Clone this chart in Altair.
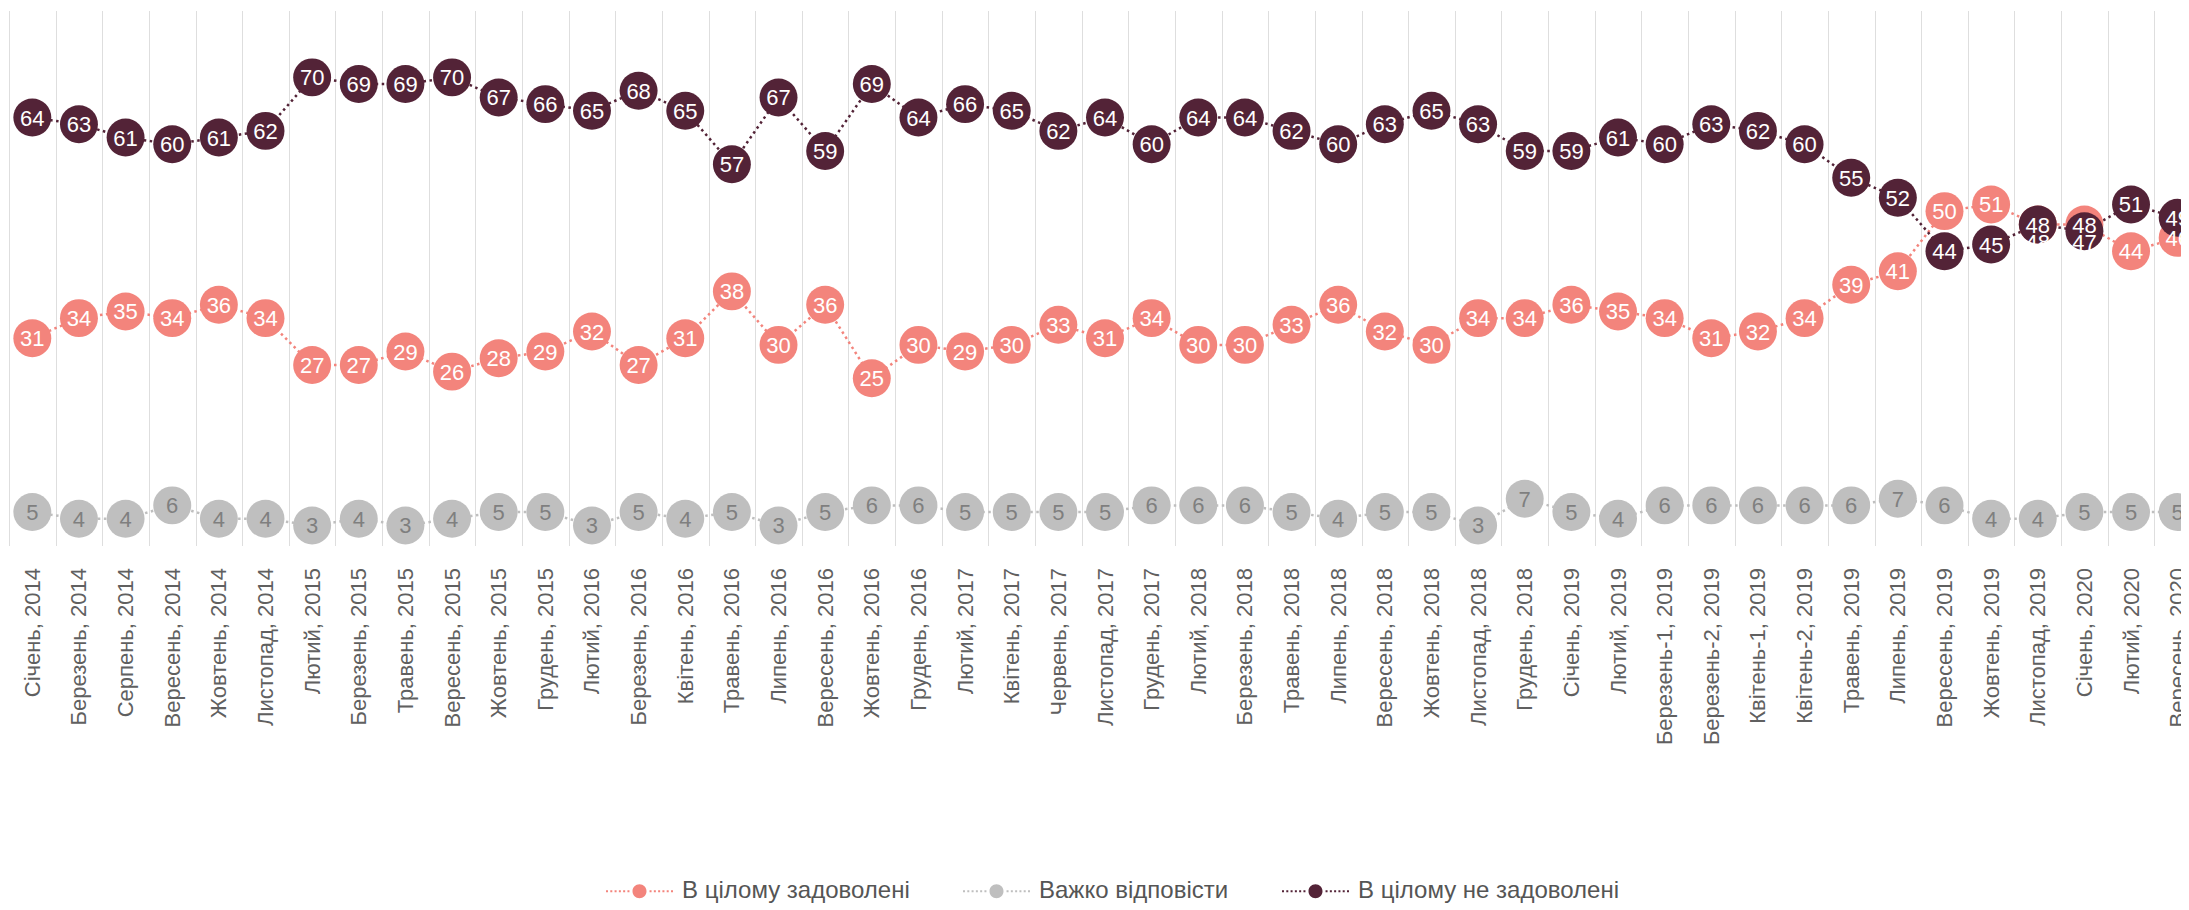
import altair as alt
import pandas as pd

categories = [
    "Січень, 2014", "Березень, 2014", "Серпень, 2014", "Вересень, 2014", "Жовтень, 2014",
    "Листопад, 2014", "Лютий, 2015", "Березень, 2015", "Травень, 2015", "Вересень, 2015",
    "Жовтень, 2015", "Грудень, 2015", "Лютий, 2016", "Березень, 2016", "Квітень, 2016",
    "Травень, 2016", "Липень, 2016", "Вересень, 2016", "Жовтень, 2016", "Грудень, 2016",
    "Лютий, 2017", "Квітень, 2017", "Червень, 2017", "Листопад, 2017", "Грудень, 2017",
    "Лютий, 2018", "Березень, 2018", "Травень, 2018", "Липень, 2018", "Вересень, 2018",
    "Жовтень, 2018", "Листопад, 2018", "Грудень, 2018", "Січень, 2019", "Лютий, 2019",
    "Березень-1, 2019", "Березень-2, 2019", "Квітень-1, 2019", "Квітень-2, 2019", "Травень, 2019",
    "Липень, 2019", "Вересень, 2019", "Жовтень, 2019", "Листопад, 2019", "Січень, 2020",
    "Лютий, 2020", "Вересень, 2020",
]

satisfied = [31, 34, 35, 34, 36, 34, 27, 27, 29, 26, 28, 29, 32, 27, 31, 38, 30, 36, 25, 30,
             29, 30, 33, 31, 34, 30, 30, 33, 36, 32, 30, 34, 34, 36, 35, 34, 31, 32, 34, 39,
             41, 50, 51, 48, 48, 44, 46]
hard = [5, 4, 4, 6, 4, 4, 3, 4, 3, 4, 5, 5, 3, 5, 4, 5, 3, 5, 6, 6,
        5, 5, 5, 5, 6, 6, 6, 5, 4, 5, 5, 3, 7, 5, 4, 6, 6, 6, 6, 6,
        7, 6, 4, 4, 5, 5, 5]
not_satisfied = [64, 63, 61, 60, 61, 62, 70, 69, 69, 70, 67, 66, 65, 68, 65, 57, 67, 59, 69, 64,
                 66, 65, 62, 64, 60, 64, 64, 62, 60, 63, 65, 63, 59, 59, 61, 60, 63, 62, 60, 55,
                 52, 44, 45, 48, 47, 51, 49]

series_names = ["В цілому задоволені", "Важко відповісти", "В цілому не задоволені"]
series_colors = ["#F3847C", "#BFBFBF", "#532337"]

rows = []
for k, (name, vals) in enumerate(zip(series_names, [satisfied, hard, not_satisfied])):
    for i, (c, v) in enumerate(zip(categories, vals)):
        label_y = v
        # data-label collision rule: when the two main series nearly coincide,
        # the lower (or, on a tie, the first) label is pushed below the other one
        s, n = satisfied[i], not_satisfied[i]
        if k != 1 and abs(s - n) < 3:
            other = n if k == 0 else s
            if v < other or (v == other and k == 0):
                label_y = other - 2.6
        rows.append({"cat": c, "series": name, "value": v, "label_y": label_y})
df = pd.DataFrame(rows)

# legend symbol: dotted line with a circle (unit coordinates)
parts = []
r = 0.209
parts.append(f"M {-r} 0 A {r} {r} 0 1 0 {r} 0 A {r} {r} 0 1 0 {-r} 0 Z")
for i in range(6):
    x0 = -1 + i * 0.128
    parts.append(f"M {x0:.3f} -0.03 h 0.06 v 0.06 h -0.06 Z")
    x1 = 0.30 + i * 0.128
    parts.append(f"M {x1:.3f} -0.03 h 0.06 v 0.06 h -0.06 Z")
legend_path = " ".join(parts)

FONT = "Liberation Sans"
BAND_RANGE = 2192  # full category range; the view shows only its visible part

x_enc = alt.X(
    "cat:N",
    sort=categories,
    scale=alt.Scale(type="band", paddingInner=0, paddingOuter=0, range=[0, BAND_RANGE]),
    axis=alt.Axis(
        title=None, labelAngle=270, labelAlign="right", labelBaseline="middle",
        labelFontSize=22, labelFont=FONT, labelColor="#606060", labelPadding=22,
        ticks=False, domain=False, grid=True, gridColor="#DEDEDE", gridWidth=1,
        tickBand="extent", labelLimit=400,
    ),
)
y_scale = alt.Scale(domain=[0, 80], nice=False, zero=True)
y_enc = alt.Y("value:Q", scale=y_scale, axis=None)
color_scale = alt.Scale(domain=series_names, range=series_colors)

base = alt.Chart(df)

lines = base.mark_line(strokeDash=[2.5, 3.5], strokeWidth=2.5).encode(
    x=x_enc, y=y_enc,
    color=alt.Color("series:N", scale=color_scale, legend=None),
    detail="series:N",
)

circles = base.mark_circle(size=1440, opacity=1).encode(
    x=x_enc, y=y_enc,
    color=alt.Color(
        "series:N", scale=color_scale,
        legend=alt.Legend(
            title=None, orient="none", direction="horizontal",
            legendX=597, legendY=847,
            symbolType=legend_path, symbolSize=4489, symbolStrokeWidth=0, symbolOpacity=1,
            labelFontSize=24, labelFont=FONT, labelColor="#555555",
            labelOffset=9, columnPadding=53, labelLimit=500,
        ),
    ),
)

labels = base.mark_text(fontSize=22, font=FONT, baseline="middle", align="center", dy=1).encode(
    x=x_enc,
    y=alt.Y("label_y:Q", scale=y_scale, axis=None),
    text="value:Q",
    color=alt.Color("tc:N", scale=None),
).transform_calculate(
    tc="datum.series === 'Важко відповісти' ? '#7F7F7F' : '#FFFFFF'"
)

chart = alt.layer(lines, circles, labels).resolve_scale(color="independent").properties(
    width=2172, height=535,
    padding={"left": 1, "top": 2.5, "right": 0, "bottom": 364},
    autosize=alt.AutoSizeParams(type="none"),
).configure_view(stroke=None)

chart.save("out.html", embed_options={"renderer": "svg", "actions": False})
